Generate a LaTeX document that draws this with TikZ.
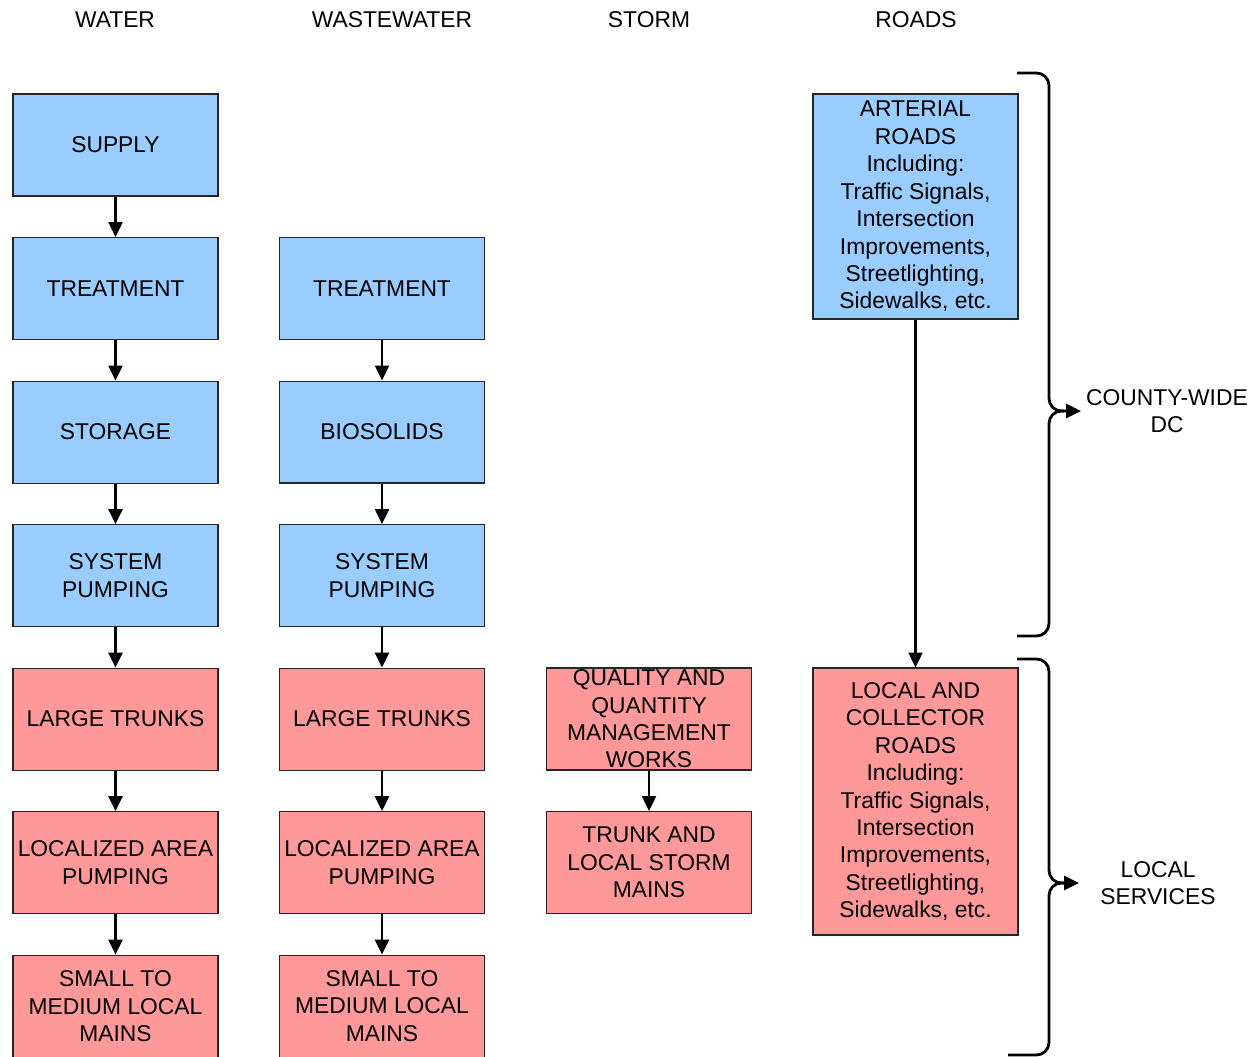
\documentclass[tikz,border=0pt]{standalone}
\usepackage{fontspec}
\setmainfont{Liberation Sans}
\usepackage{xcolor}
\definecolor{RegionBlue}{RGB}{153,204,255}
\definecolor{LocalRed}{RGB}{255,153,153}
\usetikzlibrary{positioning,arrows.meta}
\newcommand{\diagfont}{\fontsize{13}{15.6}\selectfont}

\begin{document}
\begin{tikzpicture}[x=0.02cm, y=-0.02cm,
    box/.style={rectangle, draw=black!85, line width=0.6pt,
                minimum width=4.1cm, minimum height=2.04cm,
                inner sep=0.05cm, align=center, font=\diagfont},
    dcbox/.style={box, fill=RegionBlue},
    localbox/.style={box, fill=LocalRed},
    head/.style={align=center, font=\diagfont},
    arrow/.style={-{Triangle[length=3mm, width=2.8mm]}, line width=1.4pt},
    brace/.style={line width=1.6pt, rounded corners=0.25cm}
]
    \useasboundingbox (0,0) rectangle (1259,1057);

    % column headings
    \node[head] (hwater) at (115,20) {WATER};
    \node[head] (hwaste) at (392,20) {WASTEWATER};
    \node[head] (hstorm) at (649,20) {STORM};
    \node[head] (hroads) at (916,20) {ROADS};

    % water
    \node[dcbox] (supply) at (115.5,145) {SUPPLY};
    \node[dcbox, below=0.81cm of supply] (wtreat) {TREATMENT};
    \node[dcbox, below=0.81cm of wtreat] (storage) {STORAGE};
    \node[dcbox, below=0.81cm of storage] (wpump) {SYSTEM\\PUMPING};
    \node[localbox, below=0.81cm of wpump] (wtrunk) {LARGE TRUNKS};
    \node[localbox, below=0.81cm of wtrunk] (wlocal) {LOCALIZED AREA\\PUMPING};
    \node[localbox, below=0.81cm of wlocal] (wmains) {SMALL TO\\MEDIUM LOCAL\\MAINS};
    \draw[arrow] (supply) -- (wtreat);
    \draw[arrow] (wtreat) -- (storage);
    \draw[arrow] (storage) -- (wpump);
    \draw[arrow] (wpump) -- (wtrunk);
    \draw[arrow] (wtrunk) -- (wlocal);
    \draw[arrow] (wlocal) -- (wmains);

    % wastewater
    \node[dcbox] (streat) at (382,288.5) {TREATMENT};
    \node[dcbox, below=0.81cm of streat] (biosol) {BIOSOLIDS};
    \node[dcbox, below=0.81cm of biosol] (spump) {SYSTEM\\PUMPING};
    \node[localbox, below=0.81cm of spump] (strunk) {LARGE TRUNKS};
    \node[localbox, below=0.81cm of strunk] (slocal) {LOCALIZED AREA\\PUMPING};
    \node[localbox, below=0.81cm of slocal] (smains) {SMALL TO\\MEDIUM LOCAL\\MAINS};
    \draw[arrow] (streat) -- (biosol);
    \draw[arrow] (biosol) -- (spump);
    \draw[arrow] (spump) -- (strunk);
    \draw[arrow] (strunk) -- (slocal);
    \draw[arrow] (slocal) -- (smains);

    % storm
    \node[localbox] (qqworks) at (649,719)
        {\parbox[c][1.8cm][c]{4cm}{\centering QUALITY AND\\QUANTITY\\MANAGEMENT\\WORKS}};
    \node[localbox, below=0.81cm of qqworks] (stmains) {TRUNK AND\\LOCAL STORM\\MAINS};
    \draw[arrow] (qqworks) -- (stmains);

    % roads
    \node[dcbox, minimum height=4.5cm] (arterial) at (915.5,206.5)
        {ARTERIAL\\ROADS\\Including:\\Traffic Signals,\\Intersection\\Improvements,\\Streetlighting,\\Sidewalks, etc.};
    \node[localbox, minimum height=5.34cm] (collector) at (915.5,801.5)
        {LOCAL AND\\COLLECTOR\\ROADS\\Including:\\Traffic Signals,\\Intersection\\Improvements,\\Streetlighting,\\Sidewalks, etc.};
    \draw[arrow] (arterial) -- (collector);

    % braces
    \node[head] (cwlabel) at (1167,411) {COUNTY-WIDE\\DC};
    \node[head] (lslabel) at (1158,883) {LOCAL\\SERVICES};
    \coordinate (cwtop) at (1017,73);
    \coordinate (cwmid) at (1049,411);
    \coordinate (cwbot) at (1017,636);
    \coordinate (lstop) at (1017,659);
    \coordinate (lsmid) at (1049,883);
    \coordinate (lsbot) at (1008,1055);
    \draw[brace, -{Triangle[length=3mm, width=2.8mm]}] (cwtop) -| (cwmid) -- ([xshift=0.64cm]cwmid);
    \draw[brace] ([xshift=0.3cm]cwmid) -- (cwmid) |- (cwbot);
    \draw[brace, -{Triangle[length=3mm, width=2.8mm]}] (lstop) -| (lsmid) -- ([xshift=0.6cm]lsmid);
    \draw[brace] ([xshift=0.3cm]lsmid) -- (lsmid) |- (lsbot);
\end{tikzpicture}
\end{document}
